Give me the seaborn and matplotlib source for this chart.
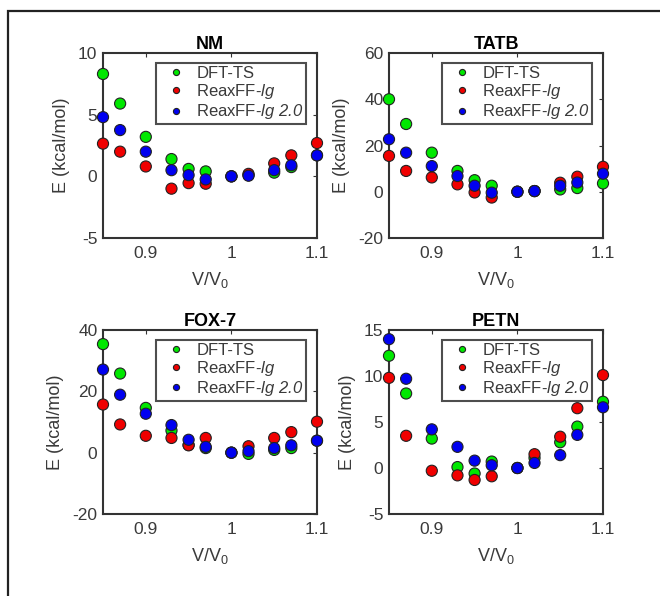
import numpy as np
import pandas as pd
import matplotlib
matplotlib.use("Agg")
import matplotlib.pyplot as plt
from matplotlib.patches import Rectangle
import seaborn as sns

# V/V0 sampling points shared by all panels
v_ratio = [0.85, 0.87, 0.90, 0.93, 0.95, 0.97, 1.00, 1.02, 1.05, 1.07, 1.10]

methods = ["DFT-TS", "ReaxFF-lg", "ReaxFF-lg 2.0"]
# mathbf is mapped to the italic face below so that "2.0" is italic too
method_labels = ["DFT-TS", r"ReaxFF-$\mathbf{lg}$", r"ReaxFF-$\mathbf{lg\ 2.0}$"]
method_colors = ["#00e800", "#f00000", "#0000f0"]

# energies (kcal/mol)
nm_dft = [8.3, 5.9, 3.2, 1.4, 0.6, 0.4, 0.0, 0.1, 0.3, 0.75, 1.7]
nm_lg = [2.65, 2.0, 0.8, -1.0, -0.55, -0.6, 0.0, 0.2, 1.05, 1.7, 2.7]
nm_lg2 = [4.8, 3.75, 2.0, 0.5, 0.1, -0.25, 0.0, 0.05, 0.5, 0.9, 1.7]

tatb_dft = [40.0, 29.3, 16.9, 9.0, 5.0, 2.6, 0.0, 0.3, 1.0, 1.6, 3.6]
tatb_lg = [15.5, 9.0, 6.2, 3.2, -0.3, -2.5, 0.0, 0.3, 3.9, 6.5, 10.8]
tatb_lg2 = [22.7, 16.9, 11.1, 6.8, 2.6, -0.4, 0.0, 0.3, 2.6, 4.0, 7.8]

fox7_dft = [35.4, 25.8, 14.6, 7.2, 2.5, 1.5, 0.0, -0.4, 0.9, 1.5, 3.9]
fox7_lg = [15.7, 9.2, 5.5, 4.8, 2.4, 4.8, 0.0, 2.1, 4.8, 6.7, 10.1]
fox7_lg2 = [27.1, 18.9, 12.7, 9.0, 4.2, 1.9, 0.0, 0.5, 1.5, 2.4, 3.9]

petn_dft = [12.2, 8.1, 3.2, 0.1, -0.6, 0.7, 0.0, 1.1, 2.8, 4.5, 7.2]
petn_lg = [9.8, 3.5, -0.3, -0.8, -1.3, -0.9, 0.0, 1.5, 3.4, 6.5, 10.1]
petn_lg2 = [14.0, 9.7, 4.2, 2.3, 0.8, 0.3, 0.0, 0.55, 1.4, 3.6, 6.6]

panels = [
    ("NM", [nm_dft, nm_lg, nm_lg2], [-5, 10], [-5, 0, 5, 10]),
    ("TATB", [tatb_dft, tatb_lg, tatb_lg2], [-20, 60], [-20, 0, 20, 40, 60]),
    ("FOX-7", [fox7_dft, fox7_lg, fox7_lg2], [-20, 40], [-20, 0, 20, 40]),
    ("PETN", [petn_dft, petn_lg, petn_lg2], [-5, 15], [-5, 0, 5, 10, 15]),
]

sns.set_style("white")
plt.rcParams["font.family"] = ["Liberation Sans", "DejaVu Sans"]
plt.rcParams["mathtext.fontset"] = "custom"
plt.rcParams["mathtext.it"] = "Liberation Sans:italic"
plt.rcParams["mathtext.bf"] = "Liberation Sans:italic"
plt.rcParams["mathtext.rm"] = "Liberation Sans"

W, H = 660, 596
fig = plt.figure(figsize=(W / 100, H / 100), dpi=100)

# axes boxes in pixels: left, top, right, bottom
boxes = [(103, 53, 317, 238), (389, 53, 603, 238),
         (103, 330, 317, 514), (389, 330, 603, 514)]

text_col = "#3a3a3a"

for (title, series, ylim, yticks), (l, t, r, b) in zip(panels, boxes):
    ax = fig.add_axes([l / W, 1 - b / H, (r - l) / W, (b - t) / H])
    df = pd.concat([
        pd.DataFrame({"V": v_ratio, "E": vals, "method": m})
        for m, vals in zip(methods, series)
    ])
    sns.scatterplot(data=df, x="V", y="E", hue="method", hue_order=methods,
                    palette=method_colors, s=64, edgecolor="#222222",
                    linewidth=0.8, ax=ax, zorder=3, clip_on=False)
    ax.set_xlim(0.85, 1.10)
    ax.set_ylim(*ylim)
    ax.set_xticks([0.9, 1.0, 1.1])
    ax.set_xticklabels(["0.9", "1", "1.1"])
    ax.set_yticks(yticks)
    ax.set_yticklabels([str(v) for v in yticks])
    ax.tick_params(axis="x", pad=6)
    ax.tick_params(axis="y", pad=4)
    ax.tick_params(direction="in", length=3, width=0.8, top=True, right=True,
                   labelsize=12.5, labelcolor=text_col, color="#333333")
    for sp in ax.spines.values():
        sp.set_color("#333333")
        sp.set_linewidth(1.5)
    ax.set_title(title, fontsize=13, fontweight="bold", color="black", pad=3)
    ax.set_xlabel(r"V/V$_0$", fontsize=13, color=text_col, labelpad=6)
    ax.set_ylabel("E (kcal/mol)", fontsize=13, color=text_col, labelpad=6)

    handles, _ = ax.get_legend_handles_labels()
    leg = ax.legend(handles, method_labels, loc="upper right",
                    bbox_to_anchor=(0.949, 0.945), fontsize=12,
                    markerscale=0.55, frameon=True, fancybox=False,
                    borderpad=0.15, labelspacing=0.08, handlelength=2.0,
                    handletextpad=0.25, borderaxespad=0)
    leg.get_frame().set_edgecolor("#222222")
    leg.get_frame().set_linewidth(1.5)
    for txt in leg.get_texts():
        txt.set_color(text_col)

# outer frame of the figure
fig.add_artist(Rectangle((8 / W, -0.1), 1.2, 0.1 + (1 - 11 / H),
                         transform=fig.transFigure, fill=False,
                         edgecolor="#222222", linewidth=1.6))

fig.savefig("out.png", dpi=100)
